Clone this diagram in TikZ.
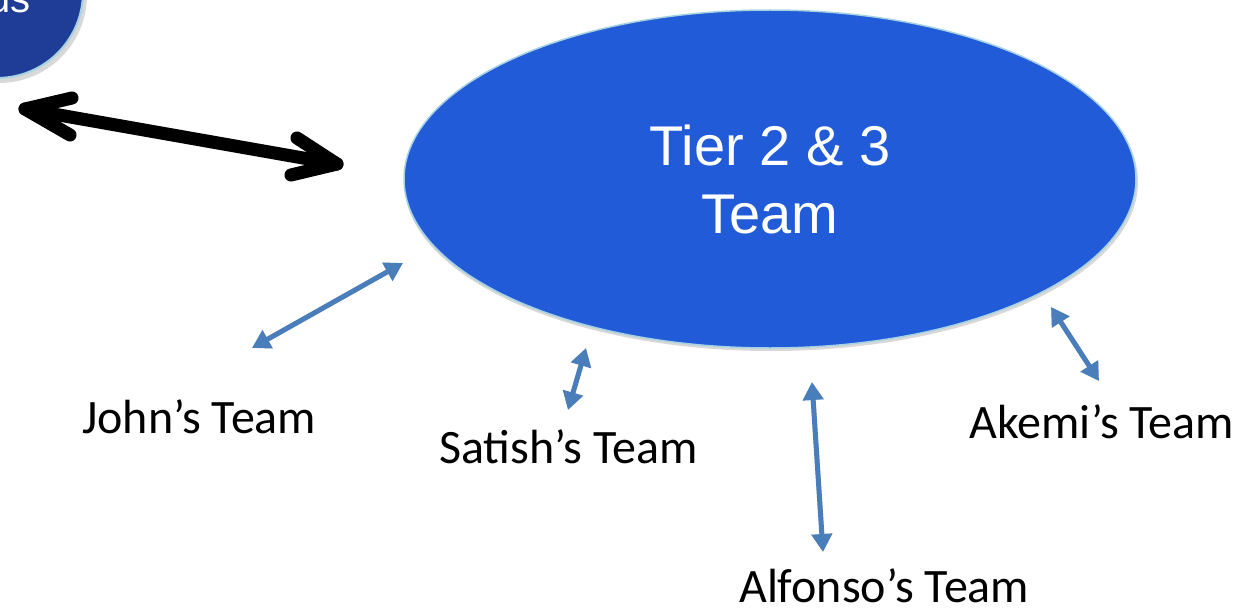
\documentclass[tikz,border=0pt]{standalone}
\usepackage{fontspec}
\setmainfont{Carlito}
\newfontfamily\arialfont{Liberation Sans}
\usetikzlibrary{arrows.meta,shapes.geometric}
\definecolor{tierblue}{HTML}{225BD8}
\definecolor{navyblue}{HTML}{1F3C96}
\definecolor{rimcyan}{HTML}{A6D3E3}
\definecolor{linkblue}{HTML}{4A7EBB}
\definecolor{softshadow}{HTML}{D8D8D8}

\begin{document}
\begin{tikzpicture}[x=1pt,y=-1pt,
  teamlabel/.style={anchor=base west, inner sep=0pt, font=\fontsize{48}{57}\selectfont},
  linktips/.style={{Triangle[length=18pt,width=20pt]}-{Triangle[length=18pt,width=20pt]}},
  linkarrow/.style={linktips, draw=linkblue, line width=5pt},
  linkshadow/.style={linktips, draw=softshadow, line width=5pt, shift={(2,3)}},
  bigarrow/.style={draw=black, line width=13pt, line cap=round, line join=round},
  bigshadow/.style={draw=softshadow, line width=13pt, line cap=round, line join=round, shift={(3,6)}}
]
\path[use as bounding box] (0,0) rectangle (1237,610);
\clip (0,0) rectangle (1237,610);

% partly visible hub circle in the corner
\fill[softshadow] (-1,-5) circle[radius=88];
\node[circle, minimum size=172pt, inner sep=0pt, fill=navyblue, draw=rimcyan, line width=2pt] (hub) at (-3,-8) {};
\node[anchor=base east, inner sep=0pt, text=white, font=\arialfont\fontsize{40}{48}\selectfont] (hubtext) at (31,13) {us};

% central team ellipse
\fill[softshadow] (771,182) ellipse[x radius=367, y radius=169];
\node[ellipse, minimum width=732pt, minimum height=338pt, inner sep=0pt,
      fill=tierblue, draw=rimcyan, line width=1.5pt, text=white, align=center,
      font=\arialfont\fontsize{56}{68}\selectfont] (tier) at (770,179) {Tier 2 \& 3\\Team};

% double-headed black arrow between hub and ellipse
\coordinate (lefttip) at (25,109);
\coordinate (leftbarbA) at (72,98);
\coordinate (leftbarbB) at (70,135);
\coordinate (righttip) at (337,164);
\coordinate (rightbarbA) at (297,138);
\coordinate (rightbarbB) at (291,175);
\draw[bigshadow] (lefttip) -- (righttip);
\draw[bigshadow] (leftbarbA) -- (lefttip) -- (leftbarbB);
\draw[bigshadow] (rightbarbA) -- (righttip) -- (rightbarbB);
\draw[bigarrow] (lefttip) -- (righttip);
\draw[bigarrow] (leftbarbA) -- (lefttip) -- (leftbarbB);
\draw[bigarrow] (rightbarbA) -- (righttip) -- (rightbarbB);

% team labels
\node[teamlabel] (john) at (82,433) {John’s Team};
\node[teamlabel] (satish) at (439,463) {Satish’s Team};
\node[teamlabel] (akemi) at (969,438) {Akemi’s Team};
\node[teamlabel] (alfonso) at (739,602) {Alfonso’s Team};

% link arrow end points
\coordinate (johnend) at (252,348);
\coordinate (johntier) at (403,263);
\coordinate (satishend) at (568,410);
\coordinate (satishtier) at (586,348);
\coordinate (alfonsoend) at (823,552);
\coordinate (alfonsotier) at (812,382);
\coordinate (akemiend) at (1099,381);
\coordinate (akemitier) at (1051,307);

\foreach \a/\b in {johnend/johntier, satishend/satishtier, alfonsoend/alfonsotier, akemiend/akemitier}{
  \draw[linkshadow] (\a) -- (\b);
}
\foreach \a/\b in {johnend/johntier, satishend/satishtier, alfonsoend/alfonsotier, akemiend/akemitier}{
  \draw[linkarrow] (\a) -- (\b);
}
\end{tikzpicture}
\end{document}
